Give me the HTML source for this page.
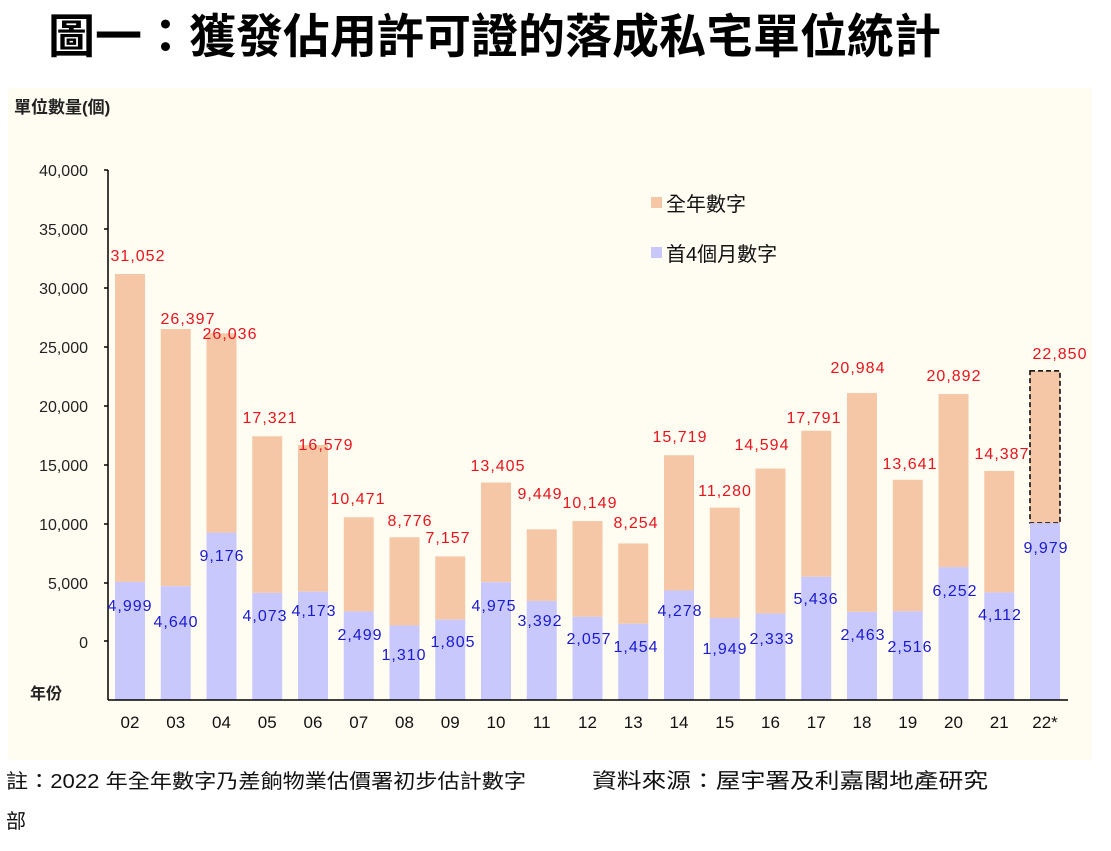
<!DOCTYPE html>
<html><head><meta charset="utf-8"><style>
body{margin:0;width:1111px;height:846px;background:#fff;overflow:hidden}
</style></head><body>
<svg width="1111" height="846" xmlns="http://www.w3.org/2000/svg" font-family="'Liberation Sans','Noto Sans CJK TC',sans-serif">
<rect x="8" y="88" width="1084" height="672" fill="#fffdf2"/>
<text x="48" y="53" font-size="47" font-weight="bold" fill="#000" font-family="'Noto Sans CJK TC',sans-serif">圖一：獲發佔用許可證的落成私宅單位統計</text>
<text x="14" y="113" font-size="17" font-weight="bold" fill="#222">單位數量(個)</text>
<g font-size="16" fill="#222" text-anchor="end">
<text x="88" y="176">40,000</text><text x="88" y="235">35,000</text><text x="88" y="294">30,000</text><text x="88" y="353">25,000</text><text x="88" y="412">20,000</text><text x="88" y="471">15,000</text><text x="88" y="530">10,000</text><text x="88" y="589">5,000</text><text x="88" y="648">0</text>
</g>
<line x1="108" y1="170" x2="108" y2="700" stroke="#000" stroke-width="1.5"/>
<g stroke="#000" stroke-width="1.5">
<line x1="104" y1="170" x2="108" y2="170"/><line x1="104" y1="229" x2="108" y2="229"/><line x1="104" y1="288" x2="108" y2="288"/><line x1="104" y1="347" x2="108" y2="347"/><line x1="104" y1="406" x2="108" y2="406"/><line x1="104" y1="465" x2="108" y2="465"/><line x1="104" y1="524" x2="108" y2="524"/><line x1="104" y1="583" x2="108" y2="583"/><line x1="104" y1="641" x2="108" y2="641"/>
</g>
<g id="bars"></g>
<line x1="108" y1="700" x2="1068" y2="700" stroke="#000" stroke-width="1.5"/>
<text x="30" y="699" font-size="16" font-weight="bold" fill="#222" font-family="'Noto Sans CJK TC',sans-serif">年份</text>
<rect x="651" y="197" width="11" height="11" fill="#f6c7a6"/>
<text x="666" y="211" font-size="20" fill="#111">全年數字</text>
<rect x="651" y="247" width="11" height="11" fill="#c8c8fc"/>
<text x="666" y="261" font-size="20" fill="#111">首4個月數字</text>
<text x="6" y="788" font-size="20" fill="#111" textLength="520" lengthAdjust="spacingAndGlyphs">註：2022 年全年數字乃差餉物業估價署初步估計數字</text>
<text x="592" y="788" font-size="21" fill="#111" textLength="396" lengthAdjust="spacingAndGlyphs">資料來源：屋宇署及利嘉閣地產研究</text>
<text x="6" y="828" font-size="20" fill="#111">部</text>
</svg>
<script>
var d=[["02",31052,4999,138,255,130,605],["03",26397,4640,188,318,176,621],["04",26036,9176,230,333,222,555],["05",17321,4073,270,417,265,615],["06",16579,4173,326,444,314,610],["07",10471,2499,358,498,360,634],["08",8776,1310,410,520,404,654],["09",7157,1805,448,537,453,641],["10",13405,4975,498,465,494,605],["11",9449,3392,540,493,540,620],["12",10149,2057,590,502,589,638],["13",8254,1454,636,522,636,646],["14",15719,4278,680,436,680,610],["15",11280,1949,725,490,725,648],["16",14594,2333,762,444,772,638],["17",17791,5436,814,417,816,598],["18",20984,2463,858,367,863,634],["19",13641,2516,910,463,910,646],["20",20892,6252,954,375,955,590],["21",14387,4112,1002,453,1000,614],["22*",22850,9979,1060,353,1046,547]];
var g=document.getElementById("bars"),s="";
function Y(v){return 641-v*0.01182}
function f(n){return n.toLocaleString("en-US")}
d.forEach(function(r,i){var c=130+i*45.75,x=c-15,yt=Y(r[1]),yb=Y(r[2]);
s+='<rect x="'+x+'" y="'+yt+'" width="30" height="'+(yb-yt)+'" fill="#f6c7a6"'+(i==20?' stroke="#000" stroke-width="1.5" stroke-dasharray="5,3"':'')+'/>';
s+='<rect x="'+x+'" y="'+yb+'" width="30" height="'+(700-yb)+'" fill="#c8c8fc"/>';
s+='<text x="'+r[3]+'" y="'+(r[4]+6)+'" font-size="16" fill="#e8141c" text-anchor="middle" letter-spacing="1">'+f(r[1])+'</text>';
s+='<text x="'+r[5]+'" y="'+(r[6]+6)+'" font-size="16" fill="#1a1ad0" text-anchor="middle" letter-spacing="1">'+f(r[2])+'</text>';
s+='<text x="'+c+'" y="728" font-size="17" fill="#111" text-anchor="middle">'+r[0]+'</text>';});
g.innerHTML=s;
</script>
</body></html>
